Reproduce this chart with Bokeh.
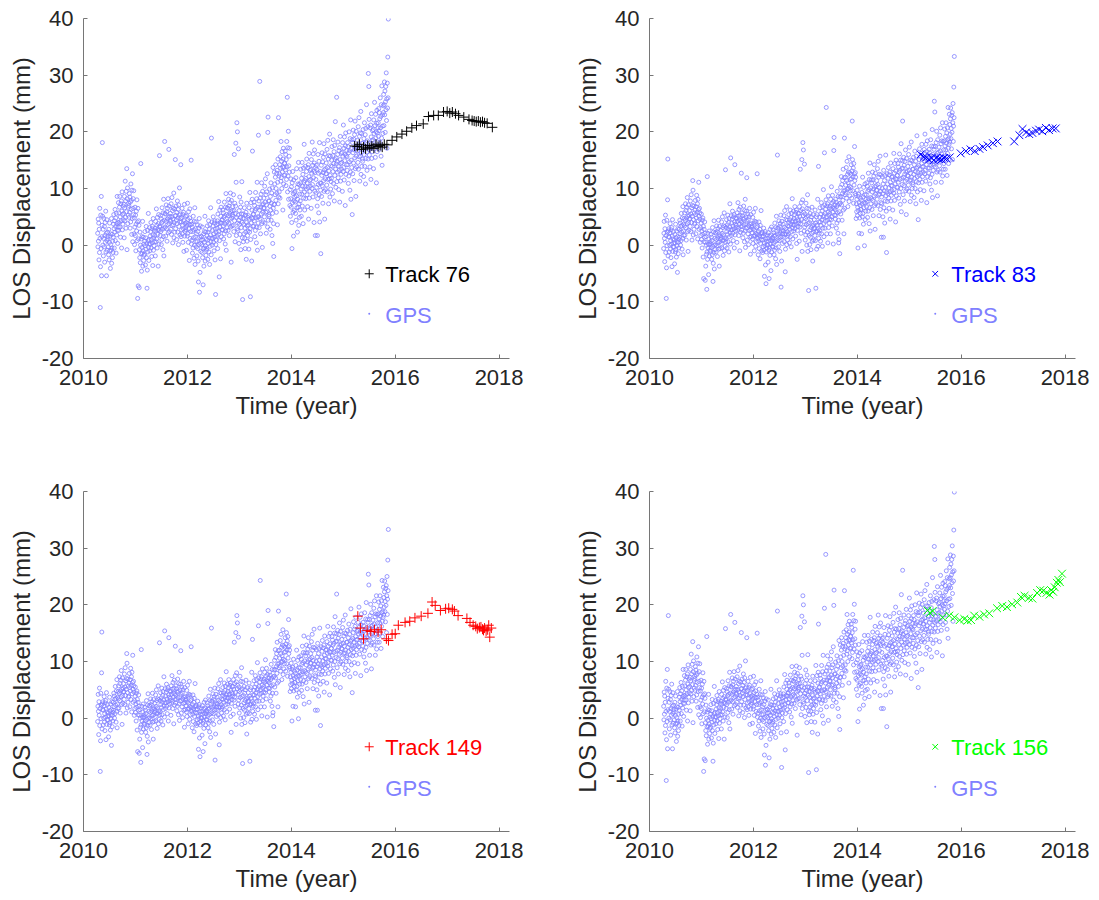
import numpy as np
from bokeh.plotting import figure
from bokeh.layouts import column, row
from bokeh.models import FixedTicker, Range1d
from bokeh.embed import file_html
from bokeh.resources import INLINE
from bokeh.core.properties import value

# ---------------- data ----------------
# GPS LOS series (mm), one value every GPS_STEP years starting at GPS_T0
GPS_T0 = 2010.27
GPS_STEP = 0.005

gps_a = [  # GPS projected onto the LOS of tracks 76 / 156
    2.1, -0.3, 4.6, 0.7, 3.9, -2.6, 2.8, -1.3, 6.5, 1.2, -11, -3.8, 5.3, -0.6, 8.6, -5.4, 1.5, 3.5, 18.1, 5.1,
    0.0, 2.8, -1.9, 1.2, 4.7, -0.3, 3.3, -3.0, 1.7, 4.0, 0.5, 6.0, -1.2, 2.1, -5.4, 4.5, 0.8, -0.9, 2.3, 1.5,
    1.1, -0.3, -1.7, 2.8, -2.6, 0.5, 3.9, -1.0, 1.6, -4.1, 0.1, 2.0, -0.9, 4.7, -3.2, -0.5, 1.9, -2.2, 0.7, -1.3,
    1.4, 3.7, 5.4, 2.9, -0.5, 4.3, 2.3, 6.3, 0.8, 3.3, 4.8, -1.4, 5.6, 1.8, 3.8, 8.6, 2.6, 0.3, 4.0, 3.2,
    7.5, 2.6, 5.7, 4.0, 6.7, 8.6, 3.2, 5.0, 1.4, 7.3, 4.3, 7.8, -0.5, 6.0, 9.4, 2.7, 5.4, 3.7, 6.9, 4.5,
    5.6, 7.2, 1.3, 8.6, 6.6, 4.3, 11.3, 4.9, 7.8, 3.0, 9.5, 5.9, 13.5, -0.8, 8.2, 10.1, 3.8, 6.7, 5.3, 7.4,
    7.0, 4.9, 9.1, 5.8, 8.5, 3.0, 7.6, 4.1, 10.8, 6.3, 7.9, 1.9, 9.7, 4.7, 12.6, 0.6, 6.5, 8.2, 5.4, 9.6,
    2.0, 4.8, 0.1, 3.2, 6.7, 1.7, 5.3, -1.0, 3.7, 6.0, 2.5, 8.0, 0.8, 4.1, -9.4, 6.5, -7.2, 1.1, 4.3, 3.5,
    -7.5, -0.8, -2.2, 2.3, -3.1, 0.0, 14.4, -1.5, 1.1, -4.6, -0.4, 1.5, -1.4, 4.2, -3.7, -1.0, 1.4, -2.7, 0.2, -1.8,
    -1.6, 0.7, 2.4, -0.1, -3.5, 1.3, -0.7, 3.3, -2.2, 0.3, -7.6, -4.4, 2.6, -1.2, 0.8, 5.6, -0.4, -2.7, 1.0, 0.2,
    3.1, -1.0, 1.6, 0.2, 2.4, 4.0, -0.5, 1.0, -2.0, 2.9, 0.4, 3.3, -3.6, 1.8, 4.7, -0.9, 1.3, -0.1, 2.6, 0.6,
    1.7, 3.0, -1.9, 4.2, 2.5, 0.6, 6.4, 1.1, 3.5, -0.5, 4.9, 1.9, 2.7, -3.7, 3.8, 5.4, 0.2, 2.6, 15.8, 3.2,
    3.4, 1.7, 5.2, 2.4, 4.7, 0.1, 3.9, 1.0, 6.6, 2.8, 4.2, -0.8, 5.7, 1.5, 8.1, -1.9, 3.0, 4.4, 18.3, 5.6,
    3.2, 5.5, 1.6, 4.2, 7.1, 2.9, 5.9, 0.7, 4.6, 6.5, 3.6, 8.2, 2.2, 4.9, 16.9, 6.9, 3.8, 2.4, 5.1, 4.4,
    5.6, 4.2, 2.8, 7.3, 1.9, 5.0, 8.4, 3.5, 6.1, 0.4, 4.6, 6.5, 3.6, 9.2, 1.3, 4.0, 6.4, 2.3, 5.2, 15.1,
    2.9, 5.2, 6.9, 4.4, 1.0, 5.8, 3.8, 7.8, 2.3, 4.8, 6.3, 0.1, 7.1, 3.3, 5.3, 10.1, 4.1, 1.8, 5.5, 4.7,
    14.2, 1.5, 4.1, 2.7, 4.9, 6.5, 2.0, 3.5, 0.5, 5.4, 2.9, 5.8, -1.1, 4.3, 7.2, 1.6, 3.8, 2.4, 5.1, 3.1,
    2.7, 4.0, -0.9, 5.2, 3.5, 1.6, 7.4, 2.1, 4.5, 0.5, 5.9, 2.9, 3.7, -2.7, 4.8, 6.4, 1.2, 3.6, 2.4, 4.2,
    15, 0.2, 3.7, 0.9, 3.2, -1.4, 2.4, -0.5, 5.1, 1.3, 2.7, -2.3, 4.2, 0.0, 6.6, -3.4, 1.5, 2.9, 0.6, 4.1,
    -0.3, 2.0, -1.9, 0.7, 3.6, -0.6, 2.4, -2.8, -6.5, 3.0, 0.1, 4.7, -8.3, 1.4, -4.8, 3.4, 0.3, -1.1, 1.6, 0.9,
    1.5, 0.1, -1.3, 3.2, -2.2, 0.9, -7, -0.6, 2.0, -3.7, 0.5, 2.4, -0.5, 5.1, -2.8, -0.1, 2.3, -1.8, 1.1, -0.9,
    -0.6, 1.7, 3.4, 0.9, -2.5, 2.3, 0.3, 4.3, -1.2, 1.3, 2.8, -3.4, 3.6, -0.2, 1.8, 6.6, 0.6, -1.7, 18.9, 1.2,
    4.1, 0.0, 2.6, 1.2, 3.4, 5.0, 0.5, 2.0, -1.0, 3.9, 1.4, 4.3, -2.6, 2.8, -8.7, 0.1, 2.3, 0.9, 3.6, 1.6,
    3.0, 4.3, -0.6, 5.5, 3.8, 1.9, 7.7, 2.4, -5.6, 0.8, 6.2, 3.2, 4.0, -2.4, 5.1, 6.7, 1.5, 3.9, 2.7, 4.5,
    4.4, 2.7, 6.2, 3.4, 5.7, 1.1, 4.9, 2.0, 7.6, 3.8, 5.2, 0.2, 6.7, 2.5, 9.1, -0.9, 4.0, 5.4, 3.1, 6.6,
    4.2, 6.5, 2.6, 5.2, 8.1, 3.9, 6.9, 1.7, 5.6, 7.5, 4.6, 9.2, 3.2, 5.9, -3, 7.9, 4.8, 3.4, 6.1, 5.4,
    6.8, 5.1, 3.5, 8.9, 2.4, 6.1, 16, 4.3, 7.4, 0.6, 5.6, 6.9, 18, 11.1, 1.7, 4.9, 21.6, 2.9, 20, 3.9,
    2.6, 5.3, 17, 4.4, 0.3, 6.1, 3.7, 8.5, 1.9, 4.9, 6.7, -0.8, 7.6, 3.1, 5.5, 11.2, 4.0, 1.3, -9.6, 4.7,
    5.5, 0.6, 3.7, 2.0, 4.7, 6.6, 1.2, 3.0, -0.6, 5.3, 2.3, 5.8, -2.5, 4.0, 7.4, 0.7, 3.4, 1.7, 4.9, 2.5,
    3.6, 5.2, -0.7, 6.6, 4.6, 2.3, 9.3, 2.9, -9.1, 1.0, 7.5, 3.9, 4.8, -2.8, 6.2, 8.1, 16.6, 4.7, 3.3, 5.4,
    5.5, 3.4, 7.6, 4.3, 7.0, 1.5, 6.1, 2.6, 9.3, 4.8, 6.4, 0.4, 8.2, 3.2, 11.1, -0.9, 5.0, 6.7, 3.9, 19.4,
    5.0, 7.8, 3.1, 6.2, 28.9, 4.7, 8.3, 2.0, 6.7, 9.0, 5.5, 11.0, 3.8, 7.1, -0.4, 9.5, 5.8, 4.1, 7.3, 6.5,
    8.3, 6.6, 5.0, 10.4, 3.9, 7.6, 11.7, 5.8, 8.9, 2.1, 7.1, 9.4, 5.9, 12.6, 3.2, 19.9, 22.6, 4.4, 7.8, 5.4,
    5.1, 7.8, 9.9, 6.9, 2.8, 8.6, 6.2, 11.0, 4.4, 7.4, 9.2, 1.7, 10.1, 5.6, 0.3, 13.7, 6.5, 3.8, -2, 7.2,
    12.9, 7.2, 10.8, 8.9, 12.0, 14.2, 7.9, 10.0, 5.8, 12.7, 9.2, 13.2, 3.6, 11.1, 15.2, 7.3, 22.5, 8.5, 12.2, 9.4,
    12.6, 14.2, 8.3, 15.6, 13.6, 11.3, 18.3, 11.9, 14.8, 10.0, 16.5, 12.9, 13.8, 6.2, 15.2, 17.1, 10.8, 13.7, 12.3, 14.4,
    14.5, 12.4, 16.6, 13.3, 16.0, 10.5, 15.1, 11.6, 18.3, 13.8, 26.1, 9.4, 17.2, 12.2, 20.1, 8.1, 14.0, 15.7, 12.9, 17.1,
    7.0, 9.8, 5.1, 8.2, 11.7, 6.7, 10.3, 4.0, -0.6, 11.0, 7.5, 13.0, 5.8, 9.1, 1.6, 11.5, 7.8, 6.1, 9.3, 8.5,
    9.5, 7.6, 5.6, 11.9, 4.4, 8.7, 13.5, 6.6, 10.2, 2.3, 8.1, 10.8, 6.7, 14.6, 3.5, 7.3, 10.7, 4.9, 9.0, 6.2,
    7.8, 11.0, 13.4, 9.9, 5.1, 11.8, 9.0, 14.6, 6.9, 10.4, 12.5, 3.8, 13.6, 8.3, 11.1, 17.8, 9.4, 6.2, 11.4, 10.3,
    13.9, 8.2, 11.8, 9.9, 13.0, 15.2, 8.9, 11.0, 6.8, 13.7, 10.2, 14.2, 4.6, 12.1, 16.2, 8.3, 11.4, 9.5, 13.2, 10.4,
    11.6, 13.4, 6.5, 15.1, 12.7, 10.0, 18.2, 10.7, 14.1, 8.5, 16.1, 11.9, 13.0, 4.0, 14.5, 16.8, 9.5, 12.8, 1.7, 13.7,
    11.6, 9.2, 14.1, 10.2, 13.4, 6.9, 1.7, 8.2, 16.0, 10.7, 12.7, 5.7, 14.8, 8.9, 18.1, 4.1, 11.0, 13.0, 9.7, -1.5,
    10.9, 14.1, 8.6, 12.3, 16.3, 10.5, 14.7, 7.4, 12.8, 15.5, 11.4, 17.9, 9.5, 13.3, 4.6, 16.1, 11.7, 9.8, 13.5, 12.6,
    14.5, 12.6, 10.6, 16.9, 9.4, 13.7, 18.5, 11.6, 15.2, 7.3, 13.1, 15.8, 11.7, 19.6, 8.5, 12.3, 15.7, 9.9, 14.0, 11.2,
    11.8, 15.0, 17.4, 13.9, 9.1, 15.8, 13.0, 18.6, 10.9, 14.4, 16.5, 7.8, 17.6, 12.3, 15.1, 21.8, 13.4, 10.2, 15.4, 14.3,
    26.1, 11.2, 14.8, 12.9, 16.0, 18.2, 11.9, 14.0, 9.8, 16.7, 13.2, 17.2, 7.6, 15.1, 19.2, 11.3, 14.4, 12.5, 16.2, 13.4,
    14.6, 16.4, 9.5, 18.1, 15.7, 13.0, 21.2, 13.7, 17.1, 11.5, 19.1, 14.9, 16.0, 7.0, 17.5, 19.8, 12.5, 15.8, 14.2, 16.7,
    15.6, 13.2, 18.1, 14.2, 17.4, 10.9, 16.3, 12.2, 20.0, 14.7, 16.7, 9.7, 18.8, 12.9, 22.1, 8.1, 15.0, 17.0, 13.7, 18.6,
    5.4, 18.1, 12.6, 16.3, 20.3, 14.5, 18.7, 11.4, 16.8, 19.5, 15.4, 21.9, 13.5, 17.3, 8.6, 20.1, 15.7, 13.8, 17.5, 16.6,
    18.5, 16.6, 14.6, 20.9, 13.4, 17.7, 22.5, 15.6, 19.2, 11.3, 17.1, 19.8, 15.7, 23.6, 12.5, 16.3, 19.7, 13.9, 18.0, 15.2,
    14.8, 18.0, 20.4, 16.9, 12.1, 18.8, 16.0, 21.6, 13.9, 17.4, 19.5, 10.8, 20.6, 15.3, 18.1, 24.8, 16.4, 13.2, 18.4, 17.3,
    20.9, 15.2, 30.3, 16.9, 28, 22.2, 15.9, 18.0, 13.8, 20.7, 17.2, 21.2, 11.6, 19.1, 23.2, 15.3, 18.4, 16.5, 20.2, 17.4,
    18.6, 20.4, 13.5, 22.1, 19.7, 17.0, 25.2, 17.7, 21.1, 15.5, 23.1, 18.9, 20.0, 11.0, 21.5, 23.8, 16.5, 19.8, 18.2, 20.7,
    21.6, 19.2, 24.1, 20.2, 23.4, 16.9, 22.3, 18.2, 26.0, 20.7, 22.7, 15.7, 24.8, 18.9, 28.1, 14.1, 21.0, 23.0, 19.7, 24.6,
    23.4, 26.6, 21.1, 24.8, 28.8, 23.0, 27.2, 19.9, 25.3, 28.0, 23.9, 30.4, 22.0, 25.8, 17.1, 28.6, 24.2, 33.2, 26.0, 39.9,
]

gps_b = [  # GPS projected onto the LOS of tracks 83 / 149
    -0.6, 2.1, 4.2, 1.2, -2.9, 2.9, 0.5, 5.3, -1.3, 1.7, -9.4, -4.0, 4.4, -0.1, 2.3, 8.0, 15.2, -1.9, 2.5, 1.5,
    2.9, -1.2, 1.4, 0.0, 2.2, 3.8, -0.7, 0.8, -2.2, 2.7, 0.2, 3.1, -3.8, 1.6, 4.5, -1.1, 1.1, -0.3, 2.4, 0.4,
    -0.3, 0.9, -3.3, 1.9, 0.4, -1.2, 3.7, -0.8, 1.3, -2.1, 2.5, -0.1, 0.6, -4.8, 1.5, 2.9, -1.5, 0.5, -0.5, 1.0,
    2.8, 1.4, 4.4, 2.0, 3.9, 0.0, 3.3, 0.8, 5.6, 2.3, 3.5, -0.7, 4.8, 1.2, 6.8, -1.7, 2.5, 3.7, 1.7, 4.7,
    3.4, 5.7, 1.8, 4.4, 7.3, 3.1, 6.1, 0.9, 4.8, 6.7, 3.8, 8.4, 2.4, 5.1, -1.1, 7.1, 4.0, 2.6, 5.3, 4.6,
    6.1, 4.7, 3.3, 7.8, 2.4, 5.5, 8.9, 4.0, 6.6, 0.9, 5.1, 7.0, 11.4, 9.7, 1.8, 4.5, 6.9, 2.8, 5.7, 3.7,
    3.9, 6.2, 7.9, 5.4, 2.0, 6.8, 4.8, 8.8, 3.3, 5.8, 7.3, 1.1, 8.1, 4.3, 6.3, 11.1, 5.1, 2.8, 6.5, 5.7,
    4.6, 0.5, 3.1, 1.7, 3.9, 5.5, 1.0, 2.5, -0.5, 4.4, 1.9, 4.8, -2.1, 3.3, -5.9, 0.6, 2.8, 1.4, 4.1, 2.1,
    -6.2, 0.5, -3.7, 1.5, 0.0, -1.6, -7.8, -1.2, 12.1, -2.5, 2.1, -0.5, 0.2, -5.2, 1.1, 2.5, -1.9, 0.1, -0.9, 0.6,
    0.3, -1.1, 1.9, -0.5, 1.4, -2.5, 0.8, -1.7, 3.1, -0.2, -6.4, -3.2, 2.3, -1.3, 4.3, -4.2, 0.0, 1.2, -0.8, 2.2,
    0.1, 2.1, -1.2, 1.0, 3.4, -0.1, 2.4, -2.0, 1.3, 2.9, 0.5, 4.4, -0.7, 1.6, -3.7, 3.3, 0.6, -0.6, 1.7, 1.1,
    2.6, 1.4, 0.3, 4.1, -0.5, 2.1, 5.0, 0.8, 3.1, -1.8, 1.8, 3.4, 0.9, 5.7, -1.0, 1.3, 3.3, -0.2, 13.3, 0.6,
    1.1, 3.1, 4.5, 2.4, -0.5, 3.6, 1.9, 5.3, 0.6, 2.8, 4.0, -1.2, 4.7, 1.5, 3.2, 7.3, 2.2, 0.2, 15.4, 2.7,
    5.2, 1.7, 3.9, 2.7, 4.6, 6.0, 2.1, 3.4, 0.8, 5.0, 2.9, 5.4, -0.5, 4.1, 14.2, 1.8, 3.7, 2.5, 4.8, 3.1,
    3.5, 4.7, 0.5, 5.7, 4.2, 2.6, 7.5, 3.0, 5.1, 1.7, 6.3, 3.7, 4.4, -1.0, 5.3, 6.7, 2.3, 4.3, 3.3, 12.7,
    4.1, 2.7, 5.7, 3.3, 5.2, 1.3, 4.6, 2.1, 6.9, 3.6, 4.8, 0.6, 6.1, 2.5, 8.1, -0.4, 3.8, 5.0, 3.0, 6.0,
    11.9, 4.2, 0.9, 3.1, 5.5, 2.0, 4.5, 0.1, 3.4, 5.0, 2.6, 6.5, 1.4, 3.7, -1.6, 5.4, 2.7, 1.5, 3.8, 3.2,
    3.4, 2.2, 1.1, 4.9, 0.3, 2.9, 5.8, 1.6, 3.9, -1.0, 2.6, 4.2, 1.7, 6.5, -0.2, 2.1, 4.1, 0.6, 3.1, 1.4,
    12.6, 1.9, 3.3, 1.2, -1.7, 2.4, 0.7, 4.1, -0.6, 1.6, 2.8, -2.4, 3.5, 0.3, 2.0, 6.1, 1.0, -1.0, 2.2, 1.5,
    2.2, -1.3, 0.9, -0.3, 1.6, 3.0, -0.9, 0.4, -5.5, 2.0, -0.1, 2.4, -3.5, 1.1, -6.8, -1.2, 0.7, -0.5, 1.8, 0.1,
    0.0, 1.2, -3.0, 2.2, 0.7, -0.9, -5.9, -0.5, 1.6, -1.8, 2.8, 0.2, 0.9, -4.5, 1.8, 3.2, -1.2, 0.8, -0.2, 1.3,
    1.1, -0.3, 2.7, 0.3, 2.2, -1.7, 1.6, -0.9, 3.9, 0.6, 1.8, -2.4, 3.1, -0.5, 5.1, -3.4, 0.8, 2.0, 15.9, 3.0,
    1.0, 3.0, -0.3, 1.9, 4.3, 0.8, 3.3, -1.1, 2.2, 3.8, 1.4, 5.3, -7.4, 2.5, -2.8, 4.2, 1.5, 0.3, 2.6, 2.0,
    3.7, 2.5, 1.4, 5.2, 0.6, 3.2, 6.1, 1.9, -4.7, -0.7, 2.9, 4.5, 2.0, 6.8, 0.1, 2.4, 4.4, 0.9, 3.4, 1.7,
    2.0, 4.0, 5.4, 3.3, 0.4, 4.5, 2.8, 6.2, 1.5, 3.7, 4.9, -0.3, 5.6, 2.4, 4.1, 8.2, 3.1, 1.1, 4.3, 3.6,
    6.0, 2.5, 4.7, 3.5, 5.4, 6.8, 2.9, 4.2, 1.6, 5.8, 3.7, 6.2, 0.3, 4.9, -2.5, 2.6, 4.5, 3.3, 5.6, 3.9,
    4.3, 5.6, 0.7, 6.8, 5.1, 3.2, 13.4, 3.7, 6.1, 2.1, 7.5, 4.5, 15.1, -1.1, 6.4, 8.0, 18.1, 5.2, 16.8, 5.8,
    4.2, 2.5, 14.3, 3.2, 5.5, 0.9, 4.7, 1.8, 7.4, 3.6, 5.0, 0.0, 6.5, 2.3, 8.9, -1.1, 3.8, 5.2, -8.0, 6.4,
    1.7, 4.0, 0.1, 2.7, 5.6, 1.4, 4.4, -0.8, 3.1, 5.0, 2.1, 6.7, 0.7, 3.4, -2.8, 5.4, 2.3, 0.9, 3.6, 2.9,
    4.5, 3.1, 1.7, 6.2, 0.8, 3.9, -7.6, 2.4, 5.0, -0.7, 3.5, 5.4, 2.5, 8.1, -0.2, 2.9, 13.9, 1.2, 4.1, 2.1,
    2.6, 4.9, 6.6, 4.1, 0.7, 5.5, 3.5, 7.5, 2.0, 4.5, 6.0, -0.2, 6.8, 3.0, 5.0, 9.8, 3.8, 1.5, 5.2, 16.3,
    7.1, 3.0, 5.6, 4.2, 6.4, 8.0, 24.3, 5.0, 2.0, 6.9, 4.4, 7.3, 0.4, 5.8, 8.7, 3.1, 5.3, 3.9, 6.6, 4.6,
    5.6, 6.9, 2.0, 8.1, 6.4, 4.5, 10.3, 5.0, 7.4, 3.4, 8.8, 5.8, 6.6, 0.2, 7.7, 16.7, 19, 6.5, 5.3, 7.1,
    6.3, 4.6, 8.1, 5.3, 7.6, 3.0, 6.8, 3.9, 9.5, 5.7, 7.1, 2.1, 8.6, 4.4, 0.4, 1.0, 5.9, 7.3, -1.5, 8.5,
    7.4, 10.2, 5.5, 8.6, 12.1, 7.1, 10.7, 4.4, 9.1, 11.4, 7.9, 13.4, 6.2, 9.5, 2.0, 11.9, 18.9, 6.5, 9.7, 8.9,
    12.0, 10.6, 9.2, 13.7, 8.3, 11.4, 14.8, 9.9, 12.5, 6.8, 11.0, 12.9, 10.0, 15.6, 7.7, 10.4, 12.8, 8.7, 11.6, 9.6,
    10.2, 12.5, 14.2, 11.7, 8.3, 13.1, 21.9, 15.1, 9.6, 12.1, 13.6, 7.4, 14.4, 10.6, 12.6, 17.4, 11.4, 9.1, 12.8, 12.0,
    8.8, 4.7, 7.3, 5.9, 8.1, 9.7, 5.2, 6.7, -0.5, 8.6, 6.1, 9.0, 2.1, 7.5, 10.4, 4.8, 7.0, 5.6, 8.3, 6.3,
    6.3, 7.9, 2.0, 9.3, 7.3, 5.0, 12.0, 5.6, 8.5, 3.7, 10.2, 6.6, 7.5, -0.1, 8.9, 10.8, 4.5, 7.4, 6.0, 8.1,
    8.9, 6.8, 11.0, 7.7, 10.4, 4.9, 9.5, 6.0, 12.7, 8.2, 9.8, 3.8, 11.6, 6.6, 14.5, 2.5, 8.4, 10.1, 7.3, 11.5,
    8.2, 11.0, 6.3, 9.4, 12.9, 7.9, 11.5, 5.2, 9.9, 12.2, 8.7, 14.2, 7.0, 10.3, 2.8, 12.7, 9.0, 7.3, 10.5, 9.7,
    11.4, 9.7, 8.1, 13.5, 7.0, 10.7, 14.8, 8.9, 12.0, 5.2, 10.2, 12.5, 9.0, 15.7, 6.3, 9.5, 12.4, 7.5, 1.4, 8.5,
    7.3, 10.0, 12.1, 9.1, 5.0, 10.8, 1.4, 13.2, 6.6, 9.6, 11.4, 3.9, 12.3, 7.8, 10.2, 15.9, 8.7, 6.0, -1.3, 9.4,
    12.6, 7.7, 10.8, 9.1, 11.8, 13.7, 8.3, 10.1, 6.5, 12.4, 9.4, 12.9, 4.6, 11.1, 14.5, 7.8, 10.5, 8.8, 12.0, 9.6,
    10.5, 12.1, 6.2, 13.5, 11.5, 9.2, 16.2, 9.8, 12.7, 7.9, 14.4, 10.8, 11.7, 4.1, 13.1, 15.0, 8.7, 11.6, 10.2, 12.3,
    12.3, 10.2, 14.4, 11.1, 13.8, 8.3, 12.9, 9.4, 16.1, 11.6, 13.2, 7.2, 15.0, 10.0, 17.9, 5.9, 11.8, 13.5, 10.7, 14.9,
    21.9, 13.6, 8.9, 12.0, 15.5, 10.5, 14.1, 7.8, 12.5, 14.8, 11.3, 16.8, 9.6, 12.9, 5.4, 15.3, 11.6, 9.9, 13.1, 12.3,
    13.9, 12.2, 10.6, 16.0, 9.5, 13.2, 17.3, 11.4, 14.5, 7.7, 12.7, 15.0, 11.5, 18.2, 8.8, 12.0, 14.9, 10.0, 13.4, 11.0,
    10.7, 13.4, 15.5, 12.5, 8.4, 14.2, 11.8, 16.6, 10.0, 13.0, 14.8, 7.3, 15.7, 11.2, 13.6, 19.3, 12.1, 9.4, 13.8, 12.8,
    4.5, 11.0, 14.1, 12.4, 15.1, 17.0, 11.6, 13.4, 9.8, 15.7, 12.7, 16.2, 7.9, 14.4, 17.8, 11.1, 13.8, 12.1, 15.3, 12.9,
    13.9, 15.5, 9.6, 16.9, 14.9, 12.6, 19.6, 13.2, 16.1, 11.3, 17.8, 14.2, 15.1, 7.5, 16.5, 18.4, 12.1, 15.0, 13.6, 15.7,
    14.8, 12.7, 16.9, 13.6, 16.3, 10.8, 15.4, 11.9, 18.6, 14.1, 15.7, 9.7, 17.5, 12.5, 20.4, 8.4, 14.3, 16.0, 13.2, 17.4,
    14.1, 16.9, 25.4, 15.3, 23.5, 13.8, 17.4, 11.1, 15.8, 18.1, 14.6, 20.1, 12.9, 16.2, 8.7, 18.6, 14.9, 13.2, 16.4, 15.6,
    17.3, 15.6, 14.0, 19.4, 12.9, 16.6, 20.7, 14.8, 17.9, 11.1, 16.1, 18.4, 14.9, 21.6, 12.2, 15.4, 18.3, 13.4, 16.8, 14.4,
    15.7, 18.4, 20.5, 17.5, 13.4, 19.2, 16.8, 21.6, 15.0, 18.0, 19.8, 12.3, 20.7, 16.2, 18.6, 24.3, 17.1, 14.4, 18.8, 17.8,
    23.1, 18.2, 21.3, 19.6, 22.3, 24.2, 18.8, 20.6, 17.0, 22.9, 19.9, 23.4, 15.1, 21.6, 25.0, 18.3, 21.0, 27.9, 22.5, 33.3,
]

# InSAR tracks (year, LOS mm)
t76 = [2015.22, 2015.27, 2015.31, 2015.35, 2015.39, 2015.43, 2015.47, 2015.51, 2015.55, 2015.59,
       2015.63, 2015.67, 2015.71, 2015.75, 2015.79, 2015.84, 2015.94, 2016.03, 2016.13, 2016.22,
       2016.32, 2016.41, 2016.54, 2016.64, 2016.74, 2016.83, 2016.93, 2017.00, 2017.05, 2017.10,
       2017.16, 2017.22, 2017.32, 2017.42, 2017.48, 2017.52, 2017.56, 2017.60, 2017.64, 2017.68,
       2017.72, 2017.77, 2017.87]
d76 = [17.5, 17.4, 17.8, 16.9, 17.3, 17.0, 17.6, 17.2, 17.5, 17.1,
       17.8, 17.4, 17.6, 17.3, 17.8, 17.7, 18.5, 19.1, 19.6, 20.1,
       20.7, 21.1, 21.4, 22.7, 22.9, 22.9, 23.5, 23.6, 23.3, 23.5,
       23.2, 22.9, 22.6, 22.2, 22.0, 21.9, 21.8, 21.9, 21.7, 21.8,
       21.6, 21.5, 20.8]

t83 = [2015.22, 2015.28, 2015.33, 2015.38, 2015.43, 2015.47, 2015.52, 2015.57, 2015.62, 2015.67,
       2015.72, 2015.78, 2015.99, 2016.09, 2016.18, 2016.26, 2016.35, 2016.42, 2016.51, 2016.61,
       2016.70, 2017.02, 2017.12, 2017.18, 2017.25, 2017.31, 2017.37, 2017.44, 2017.50, 2017.56,
       2017.63, 2017.69, 2017.76, 2017.82]
d83 = [16.0, 15.6, 15.5, 15.1, 15.4, 15.0, 15.4, 15.2, 15.1, 15.4,
       15.3, 15.5, 16.2, 16.6, 16.9, 16.6, 17.0, 17.3, 17.6, 18.0,
       18.3, 18.3, 19.4, 20.5, 19.9, 19.6, 19.8, 20.2, 20.4, 20.1,
       20.7, 20.3, 20.6, 20.6]

t149 = [2015.28, 2015.33, 2015.39, 2015.46, 2015.53, 2015.60, 2015.67, 2015.73, 2015.83, 2015.87,
        2015.94, 2016.00, 2016.06, 2016.19, 2016.28, 2016.38, 2016.50, 2016.63, 2016.71, 2016.77,
        2016.87, 2016.97, 2017.03, 2017.10, 2017.14, 2017.21, 2017.38, 2017.44, 2017.50, 2017.55,
        2017.58, 2017.62, 2017.65, 2017.68, 2017.70, 2017.72, 2017.75, 2017.78, 2017.80, 2017.82,
        2017.85]
d149 = [18.0, 15.9, 14.0, 15.5, 15.3, 15.6, 15.2, 15.6, 14.0, 13.7,
        14.8, 14.9, 16.4, 16.9, 17.1, 17.7, 18.0, 18.5, 20.5, 19.9,
        19.0, 19.3, 19.4, 19.2, 18.9, 18.1, 17.6, 16.9, 16.4, 16.2,
        15.8, 16.0, 16.1, 15.7, 15.5, 15.9, 15.4, 15.6, 16.4, 14.3,
        15.9]

t156 = [2015.35, 2015.40, 2015.45, 2015.64, 2015.77, 2015.87, 2015.97, 2016.06, 2016.12, 2016.19,
        2016.25, 2016.35, 2016.44, 2016.54, 2016.69, 2016.79, 2016.88, 2016.98, 2017.08, 2017.15,
        2017.22, 2017.30, 2017.37, 2017.46, 2017.52, 2017.58, 2017.64, 2017.70, 2017.73, 2017.77,
        2017.80, 2017.84, 2017.87, 2017.90, 2017.94]
d156 = [19.0, 18.6, 18.9, 17.8, 18.1, 17.8, 17.3, 17.5, 17.2, 17.3,
        18.1, 17.9, 18.3, 18.5, 19.4, 19.8, 19.6, 20.1, 20.4, 21.4,
        21.6, 21.2, 21.1, 22.1, 22.6, 22.5, 22.1, 21.8, 22.6, 22.3,
        23.1, 23.9, 24.4, 24.0, 25.5]

track_names = ["Track 76", "Track 83", "Track 149", "Track 156"]
track_colors = ["#000000", "#0000ff", "#ff0000", "#00ff00"]
track_markers = ["cross", "x", "cross", "x"]
track_sizes = [10, 11, 10, 11]
legend_sizes = [9, 8, 9, 8]
gps_label = "GPS"

x_ticks = [2010, 2012, 2014, 2016, 2018]
y_ticks = [-20, -10, 0, 10, 20, 30, 40]
y_tick_text = {-20: "-20", -10: "-10"}
x_label = "Time (year)"
y_label = "LOS Displacement (mm)"

# ---------------- style ----------------
FONT = "Liberation Sans"
GPS_COLOR = "#8080ff"
AXIS_COLOR = "#767676"
TEXT_COLOR = "#262626"
LEG_X_MARK = 2015.5
LEG_X_TEXT = 2015.81
LEG_Y_TRACK_MARK = -5.05
LEG_Y_TRACK_TEXT = -5.25
LEG_Y_GPS_MARK = -12.1
LEG_Y_GPS_TEXT = -12.4


def gps_times(vals):
    return GPS_T0 + (np.arange(len(vals)) + 0.5) * GPS_STEP


def panel(gps, tt, dd, k, bl, br, bt, bb):
    p = figure(frame_width=426, frame_height=340,
               x_range=Range1d(2010, 2018.2), y_range=Range1d(-20, 40),
               output_backend="svg", toolbar_location=None,
               min_border_left=bl, min_border_right=br,
               min_border_top=bt, min_border_bottom=bb,
               x_axis_label=x_label, y_axis_label=y_label)
    p.outline_line_color = None
    p.grid.visible = False
    p.xaxis.ticker = FixedTicker(ticks=x_ticks)
    p.yaxis.ticker = FixedTicker(ticks=y_ticks)
    p.yaxis.major_label_overrides = y_tick_text
    for ax in (p.xaxis[0], p.yaxis[0]):
        ax.axis_line_color = AXIS_COLOR
        ax.axis_line_width = 1
        ax.major_tick_line_color = AXIS_COLOR
        ax.major_tick_in = 4
        ax.major_tick_out = 0
        ax.minor_tick_line_color = None
        ax.major_label_text_font = FONT
        ax.major_label_text_font_size = "22px"
        ax.major_label_text_color = TEXT_COLOR
        ax.axis_label_text_font = FONT
        ax.axis_label_text_font_size = "24px"
        ax.axis_label_text_font_style = "normal"
        ax.axis_label_text_color = TEXT_COLOR
        ax.axis_label_standoff = 4
    p.xaxis.major_label_standoff = 11
    p.yaxis.major_label_standoff = 10

    gv = np.array(gps, dtype=float)
    p.scatter(gps_times(gv), gv, marker="circle", size=4, fill_color=None,
              line_color=GPS_COLOR, line_width=0.8)
    p.scatter(tt, dd, marker=track_markers[k], size=track_sizes[k],
              line_color=track_colors[k], line_width=1)

    # legend drawn like the original: coloured labels, no box
    p.scatter([LEG_X_MARK], [LEG_Y_TRACK_MARK], marker=track_markers[k], size=legend_sizes[k],
              line_color=track_colors[k], line_width=1)
    p.scatter([LEG_X_MARK], [LEG_Y_GPS_MARK], marker="circle", size=2,
              fill_color=GPS_COLOR, line_color=None)
    p.text([LEG_X_TEXT], [LEG_Y_TRACK_TEXT], text=[track_names[k]], text_baseline="middle",
           text_align="left", text_font=value(FONT), text_font_size="22px",
           text_color=track_colors[k])
    p.text([LEG_X_TEXT], [LEG_Y_GPS_TEXT], text=[gps_label], text_baseline="middle",
           text_align="left", text_font=value(FONT), text_font_size="22px",
           text_color=GPS_COLOR)
    return p


# page body margin is set to 0 below, so borders include the former 8px offset
p1 = panel(gps_a, t76, d76, 0, 83, 61, 18, 103)
p2 = panel(gps_b, t83, d83, 1, 75, 20, 18, 103)
p3 = panel(gps_b, t149, d149, 2, 83, 61, 30, 40)
p4 = panel(gps_a, t156, d156, 3, 75, 20, 30, 40)

layout = column(row(p1, p2, spacing=0), row(p3, p4, spacing=0), spacing=0)

html = file_html(layout, INLINE)
html = html.replace("</head>", "<style>html, body { margin: 0; padding: 0; }</style>\n</head>", 1)

with open("out.html", "w") as f:
    f.write(html)
